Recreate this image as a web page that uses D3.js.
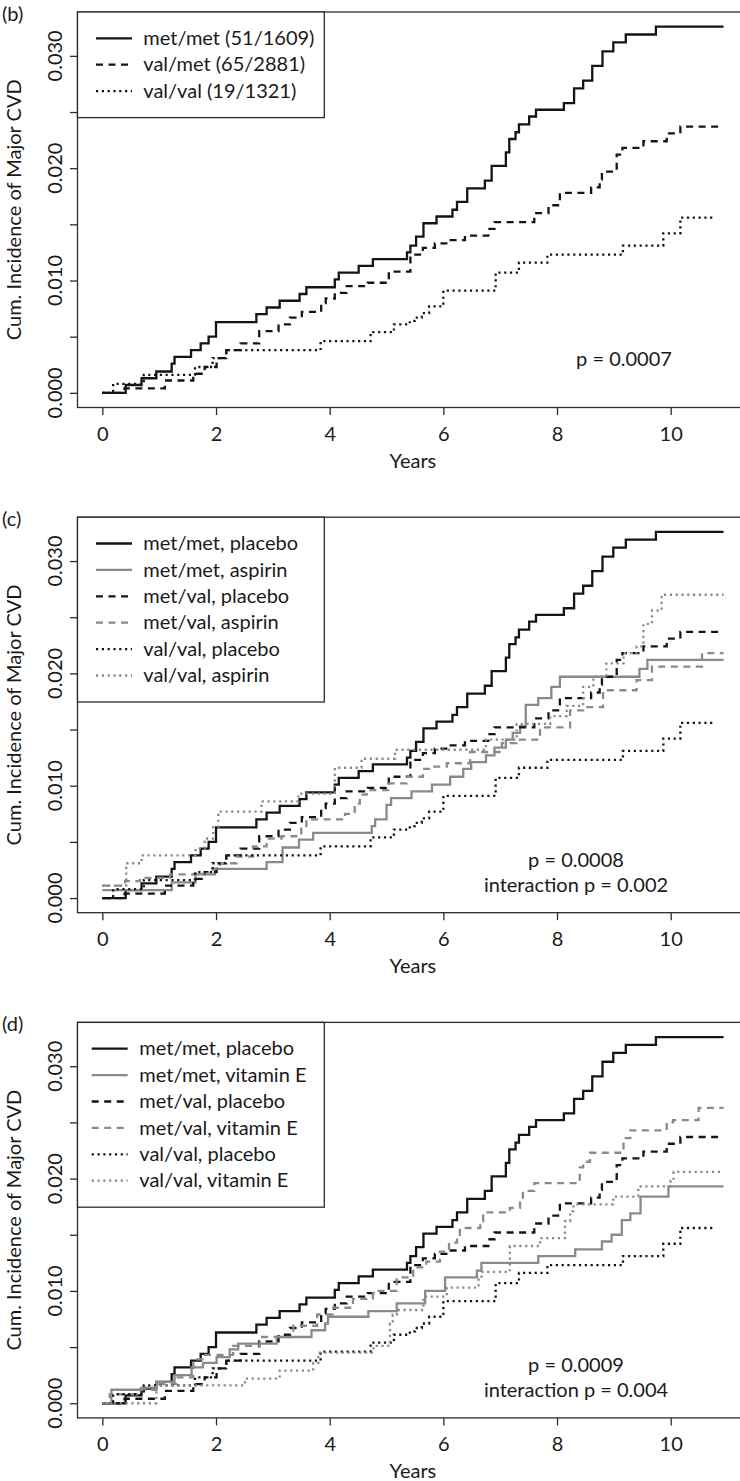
<!DOCTYPE html>
<html>
<head>
<meta charset="utf-8">
<script src="https://cdn.jsdelivr.net/npm/d3@7"></script>
<style>
  body { margin: 0; background: #fff; }
  svg text { font-family: Lato, "Noto Sans", sans-serif; font-size: 20px; fill: #1a1a1a; }
</style>
</head>
<body>
<svg id="fig" width="740" height="1481"></svg>
<script>
// ticks
const yearTicks = [0, 2, 4, 6, 8, 10];
const incTicks = [0, 0.005, 0.01, 0.015, 0.02, 0.025, 0.03];
const incLabelTicks = [0, 0.01, 0.02, 0.03];

// cumulative incidence curves, [years, incidence] at each step
const metmetPlacebo = [[0,0],[0.41,0.0007],[0.69,0.0013],[0.95,0.0019],[1.22,0.0026],[1.27,0.0032],[1.56,0.0038],
  [1.73,0.0044],[1.87,0.005],[2.0,0.0063],[2.71,0.007],[2.89,0.0076],[3.12,0.0082],[3.47,0.0088],[3.59,0.0094],
  [4.09,0.0101],[4.16,0.0107],[4.51,0.0113],[4.76,0.0119],[5.36,0.0125],[5.42,0.0131],[5.52,0.0139],[5.65,0.0151],
  [5.88,0.0157],[6.16,0.0163],[6.24,0.017],[6.42,0.0182],[6.73,0.0189],[6.85,0.0202],[7.1,0.0214],[7.16,0.0226],
  [7.27,0.0232],[7.33,0.0239],[7.51,0.0246],[7.63,0.0252],[8.12,0.0258],[8.3,0.0271],[8.46,0.0278],[8.62,0.0291],
  [8.8,0.0304],[8.99,0.0312],[9.21,0.0319],[9.74,0.0326],[10.93,0.0326]];
const metvalPlacebo = [[0,0],[0.39,0.0004],[1.1,0.0011],[1.6,0.0017],[1.8,0.0023],[2.01,0.0031],[2.18,0.0038],
  [2.43,0.0044],[2.76,0.0055],[3.1,0.0061],[3.3,0.0067],[3.51,0.0072],[3.85,0.008],[3.93,0.0084],[4.09,0.0089],
  [4.3,0.0095],[4.67,0.0098],[5.04,0.0108],[5.42,0.0123],[5.64,0.0129],[5.85,0.0133],[6.1,0.0136],[6.38,0.014],
  [6.79,0.0146],[6.9,0.0152],[7.6,0.016],[7.85,0.0167],[8.05,0.0178],[8.6,0.0183],[8.75,0.019],[8.79,0.0197],
  [9.05,0.0212],[9.15,0.0218],[9.52,0.0224],[9.93,0.0231],[10.17,0.0237],[10.88,0.0237]];
const valvalPlacebo = [[0,0],[0.19,0.0008],[0.73,0.0016],[1.63,0.0023],[1.94,0.0031],[2.18,0.0038],[3.84,0.0046],
  [4.72,0.0054],[5.13,0.0061],[5.41,0.0064],[5.5,0.0067],[5.62,0.0071],[5.75,0.0077],[6.0,0.0091],[6.92,0.0107],
  [7.33,0.0116],[7.83,0.0123],[9.16,0.0131],[9.87,0.0142],[10.17,0.0156],[10.78,0.0156]];

const metmetAspirin = [[0,0.0007],[1.22,0.0014],[1.64,0.0021],[1.98,0.0026],[2.89,0.0032],[3.17,0.0045],[3.46,0.0052],
  [3.71,0.0058],[4.74,0.0064],[4.8,0.007],[5.0,0.0083],[5.08,0.0089],[5.44,0.0095],[5.8,0.0101],[6.12,0.0108],
  [6.35,0.0115],[6.49,0.0121],[6.75,0.0127],[6.9,0.0134],[7.1,0.0141],[7.22,0.0147],[7.35,0.0153],[7.45,0.0172],
  [7.67,0.0178],[7.9,0.0188],[8.05,0.0197],[9.45,0.0204],[9.59,0.0212],[10.93,0.0212]];
const metvalAspirin = [[0,0.0011],[0.4,0.0015],[0.66,0.0018],[1.19,0.0021],[1.64,0.0022],[1.94,0.0026],[2.07,0.0031],
  [2.36,0.0037],[2.65,0.0046],[2.89,0.0053],[3.15,0.0055],[3.5,0.0063],[3.59,0.007],[4.27,0.0075],[4.44,0.0084],
  [4.53,0.0092],[4.65,0.0096],[5.03,0.0102],[5.35,0.0108],[5.64,0.0115],[5.82,0.0117],[6.06,0.012],[6.47,0.013],
  [7.03,0.0138],[7.29,0.0141],[7.7,0.0152],[8.23,0.0167],[8.46,0.017],[8.81,0.0185],[9.4,0.0194],[9.67,0.0206],
  [10.55,0.0218],[10.93,0.0218]];
const valvalAspirin = [[0,0.0011],[0.42,0.0031],[0.69,0.0038],[1.64,0.0044],[1.8,0.0053],[1.95,0.0063],[2.04,0.0077],
  [2.8,0.0086],[3.45,0.0093],[4.09,0.0116],[4.56,0.0124],[5.15,0.0132],[6.75,0.0141],[7.29,0.0155],[7.88,0.0162],
  [8.17,0.0171],[8.46,0.0188],[8.64,0.0197],[8.87,0.0209],[9.17,0.0218],[9.4,0.0224],[9.52,0.0244],[9.67,0.0256],
  [9.84,0.027],[10.93,0.027]];

const metmetVitE = [[0,0],[0.16,0.0012],[0.69,0.0014],[0.95,0.0019],[1.27,0.0025],[1.57,0.0032],[1.77,0.0036],
  [2.01,0.0041],[2.24,0.0048],[2.39,0.0053],[3.07,0.0059],[3.68,0.0065],[3.92,0.0071],[3.97,0.0077],[4.68,0.0082],
  [5.18,0.0089],[5.68,0.01],[6.03,0.0112],[6.59,0.0118],[6.67,0.0125],[7.67,0.0131],[8.32,0.0137],[8.79,0.0144],
  [8.96,0.015],[9.14,0.0163],[9.29,0.0169],[9.47,0.0184],[9.96,0.0193],[10.93,0.0193]];
const metvalVitE = [[0,0],[0.13,0.0008],[0.66,0.0012],[0.95,0.0017],[1.3,0.0023],[1.6,0.0039],[1.77,0.0043],
  [2.3,0.0051],[2.77,0.0059],[3.36,0.0069],[3.78,0.0079],[4.06,0.0085],[4.41,0.0093],[4.76,0.01],[5.18,0.0112],
  [5.47,0.0121],[5.7,0.0126],[5.94,0.0135],[6.1,0.0143],[6.24,0.015],[6.29,0.0156],[6.65,0.0162],[6.7,0.017],
  [7.17,0.0174],[7.35,0.0183],[7.4,0.0189],[7.6,0.0196],[8.4,0.021],[8.46,0.0215],[8.58,0.0223],[9.17,0.0236],
  [9.29,0.0243],[9.93,0.025],[10.04,0.0252],[10.49,0.0263],[10.93,0.0263]];
const valvalVitE = [[0,0],[0.95,0.0016],[2.51,0.0022],[3.12,0.0029],[3.71,0.0036],[3.8,0.0045],[4.77,0.0051],
  [5.06,0.0071],[5.11,0.0079],[5.18,0.0083],[5.65,0.0095],[6.06,0.0103],[6.62,0.011],[6.67,0.0117],[7.17,0.014],
  [7.7,0.0147],[8.14,0.0162],[8.23,0.0171],[8.29,0.0177],[8.99,0.0184],[9.43,0.0193],[10.0,0.0198],[10.05,0.0206],
  [10.93,0.0206]];

const labelsB = ["met/met (51/1609)", "val/met (65/2881)", "val/val (19/1321)"];
const labelsC = ["met/met, placebo", "met/met, aspirin", "met/val, placebo", "met/val, aspirin", "val/val, placebo", "val/val, aspirin"];
const labelsD = ["met/met, placebo", "met/met, vitamin E", "met/val, placebo", "met/val, vitamin E", "val/val, placebo", "val/val, vitamin E"];

const BLACK = "#141414", GRAY = "#8a8a8a";
const DASH = { solid: null, dashed: "7,5.5", dotted: "2.2,3.6" };

const styles3 = [
  { color: BLACK, lty: "solid" }, { color: BLACK, lty: "dashed" }, { color: BLACK, lty: "dotted" }];
const styles6 = [
  { color: BLACK, lty: "solid" }, { color: GRAY, lty: "solid" },
  { color: BLACK, lty: "dashed" }, { color: GRAY, lty: "dashed" },
  { color: BLACK, lty: "dotted" }, { color: GRAY, lty: "dotted" }];

const panels = [
  { tag: "(b)", top: 0, labels: labelsB, styles: styles3,
    series: [metmetPlacebo, metvalPlacebo, valvalPlacebo],
    legendLineX: 96, legendTextX: 143.3,
    pText: ["p = 0.0007"], pX: 624, pY: 366 },
  { tag: "(c)", top: 505.2, labels: labelsC, styles: styles6,
    series: [metmetPlacebo, metmetAspirin, metvalPlacebo, metvalAspirin, valvalPlacebo, valvalAspirin],
    legendLineX: 96, legendTextX: 143.3,
    pText: ["p = 0.0008", "interaction p = 0.002"], pX: 576, pY: 362 },
  { tag: "(d)", top: 1010.4, labels: labelsD, styles: styles6,
    series: [metmetPlacebo, metmetVitE, metvalPlacebo, metvalVitE, valvalPlacebo, valvalVitE],
    legendLineX: 91.7, legendTextX: 139.3,
    pText: ["p = 0.0009", "interaction p = 0.004"], pX: 576, pY: 362 }
];

const svg = d3.select("#fig");

// R-like 4% padding around the data range
function padded(lo, hi) {
  const s = hi - lo;
  return [lo - 0.04 * s, hi + 0.04 * s];
}
const allPts = panels.flatMap(p => p.series.flat());
const xDom = padded(0, d3.max(allPts, d => d[0]));
const yDom = padded(0, d3.max(allPts, d => d[1]));

const plot = { left: 77.5, right: 748.4, top: 12, bottom: 407.5 };
const axisColor = "#2b2b2b";

panels.forEach(p => {
  const g = svg.append("g").attr("transform", `translate(0,${p.top})`);

  const x = d3.scaleLinear().domain(xDom).range([plot.left, plot.right]);
  const y = d3.scaleLinear().domain(yDom).range([plot.bottom, plot.top]);

  const line = d3.line()
    .x(d => x(d[0]))
    .y(d => y(d[1]))
    .curve(d3.curveStepAfter);

  // curves
  g.append("g")
    .selectAll("path")
    .data(p.series)
    .join("path")
    .attr("d", line)
    .attr("fill", "none")
    .attr("stroke", (d, i) => p.styles[i].color)
    .attr("stroke-width", 2.3)
    .attr("stroke-dasharray", (d, i) => DASH[p.styles[i].lty]);

  // box
  g.append("rect")
    .attr("x", plot.left).attr("y", plot.top)
    .attr("width", plot.right - plot.left).attr("height", plot.bottom - plot.top)
    .attr("fill", "none").attr("stroke", axisColor).attr("stroke-width", 1.3);

  // x axis
  const xAxis = g.append("g")
    .attr("transform", `translate(0,${plot.bottom})`)
    .call(d3.axisBottom(x).tickValues(yearTicks).tickSize(7.5).tickSizeOuter(0).tickPadding(0).tickFormat(d3.format("d")));
  xAxis.select(".domain").remove();
  xAxis.selectAll("line").attr("stroke", axisColor).attr("stroke-width", 1.3);
  xAxis.selectAll("text").attr("fill", "#1a1a1a").attr("font-size", 20)
    .attr("y", 0).attr("dy", 0).attr("transform", "translate(0,33)");

  // y axis
  const yAxis = g.append("g")
    .attr("transform", `translate(${plot.left},0)`)
    .call(d3.axisLeft(y).tickValues(incTicks).tickSize(7.5).tickSizeOuter(0).tickFormat(""));
  yAxis.select(".domain").remove();
  yAxis.selectAll("line").attr("stroke", axisColor).attr("stroke-width", 1.3);

  g.append("g")
    .selectAll("text")
    .data(incLabelTicks)
    .join("text")
    .attr("transform", d => `translate(61.5,${y(d)}) rotate(-90)`)
    .attr("text-anchor", "middle")
    .text(d3.format(".3f"));

  // axis titles
  g.append("text")
    .attr("transform", `translate(20.5,${(plot.top + plot.bottom) / 2}) rotate(-90)`)
    .attr("text-anchor", "middle")
    .text("Cum. Incidence of Major CVD");
  g.append("text")
    .attr("x", (plot.left + plot.right) / 2).attr("y", 468)
    .attr("text-anchor", "middle")
    .text("Years");

  // panel tag
  g.append("text").attr("x", 2).attr("y", 21).text(p.tag);

  // p values
  g.append("g")
    .selectAll("text")
    .data(p.pText)
    .join("text")
    .attr("x", p.pX).attr("y", (d, i) => p.pY + i * 24.5)
    .attr("text-anchor", "middle")
    .text(d => d);

  // legend
  const rowH = 26.4;
  const lg = g.append("g");
  lg.append("rect")
    .attr("x", plot.left).attr("y", plot.top)
    .attr("width", 246.8).attr("height", rowH * (p.labels.length + 1))
    .attr("fill", "#fff").attr("stroke", axisColor).attr("stroke-width", 1.3);
  const row = lg.selectAll("g.row")
    .data(p.labels)
    .join("g")
    .attr("class", "row")
    .attr("transform", (d, i) => `translate(0,${plot.top + 26.3 + i * rowH})`);
  row.append("line")
    .attr("x1", p.legendLineX).attr("x2", p.legendLineX + 36)
    .attr("stroke", (d, i) => p.styles[i].color)
    .attr("stroke-width", 2.3)
    .attr("stroke-dasharray", (d, i) => DASH[p.styles[i].lty]);
  row.append("text")
    .attr("x", p.legendTextX).attr("y", 6.7)
    .text(d => d);
});
</script>
</body>
</html>
